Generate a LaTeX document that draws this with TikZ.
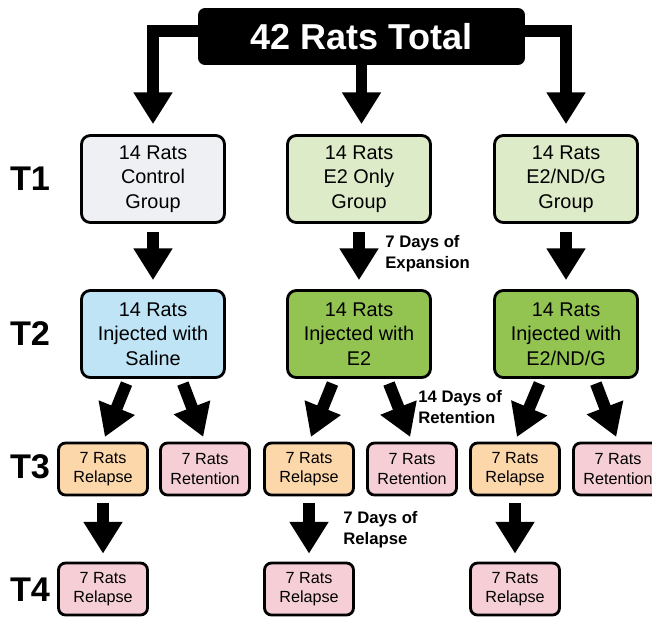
\documentclass[tikz,border=0pt]{standalone}
\usepackage{fontspec}
\setmainfont{Liberation Sans}
\usetikzlibrary{arrows.meta}

\definecolor{ctlgray}{HTML}{EEF0F3}
\definecolor{palegreen}{HTML}{DEEBC8}
\definecolor{salblue}{HTML}{BFE4F6}
\definecolor{injgreen}{HTML}{93C452}
\definecolor{relorange}{HTML}{FBD7AA}
\definecolor{retpink}{HTML}{F6CFD6}

\tikzset{
  grp/.style={draw, line width=1.6pt, rounded corners=5pt, align=center,
    minimum width=2.86cm, minimum height=1.74cm, font=\fontsize{11.3}{13.9}\selectfont},
  sub/.style={draw, line width=1.6pt, rounded corners=4pt, align=center,
    minimum width=1.78cm, minimum height=1.04cm, font=\fontsize{9.2}{11.2}\selectfont},
  fat/.style={line width=6.8pt, -{Triangle[width=21pt,length=18pt]}},
  tlab/.style={font=\fontsize{19.5}{20}\bfseries\selectfont},
  note/.style={align=left, anchor=west, inner sep=0pt, font=\fontsize{9.5}{12}\bfseries\selectfont},
}

\begin{document}
\begin{tikzpicture}[x=0.02cm, y=-0.02cm]
    \useasboundingbox (0,0) rectangle (652,616);
    \clip (0,0) rectangle (652,616);

    % Total
    \node[fill=black, rounded corners=4pt, minimum width=6.54cm, minimum height=1.14cm,
      text=white, font=\fontsize{20.5}{21}\bfseries\selectfont] (total) at (361.5,36.5) {42 Rats Total};

    % T1 groups
    \node[grp, fill=ctlgray] (ctl) at (153,179) {14 Rats\\Control\\Group};
    \node[grp, fill=palegreen] (eonly) at (359,179) {14 Rats\\E2 Only\\Group};
    \node[grp, fill=palegreen] (egrp) at (566,179) {14 Rats\\E2/ND/G\\Group};

    % T2 injections
    \node[grp, fill=salblue] (sal) at (153,334) {14 Rats\\Injected with\\Saline};
    \node[grp, fill=injgreen] (inje) at (359,334) {14 Rats\\Injected with\\E2};
    \node[grp, fill=injgreen] (injg) at (566,334) {14 Rats\\Injected with\\E2/ND/G};

    % T3 split
    \foreach \n/\x/\c/\t in {rl1/103/relorange/Relapse, rt1/205/retpink/Retention,
                             rl2/309/relorange/Relapse, rt2/412/retpink/Retention,
                             rl3/515/relorange/Relapse, rt3/618/retpink/Retention} {
        \node[sub, fill=\c] (\n) at (\x,469) {7 Rats\\\t};
    }

    % T4 relapse
    \foreach \n/\x in {fa/103, fb/309, fc/515} {
        \node[sub, fill=retpink] (\n) at (\x,589) {7 Rats\\Relapse};
    }

    % Time labels
    \node[tlab] (t1) at (30,179) {T1};
    \node[tlab] (t2) at (30,334) {T2};
    \node[tlab] (t3) at (30,467) {T3};
    \node[tlab] (t4) at (30,590) {T4};

    % Arrows from total
    \coordinate (lbend) at (153,31);
    \coordinate (rbend) at (566,31);
    \draw[fat, shorten >=0.2cm] (total.west |- lbend) -- (lbend) -- (ctl.north);
    \draw[fat, shorten >=0.2cm] (total.east |- rbend) -- (rbend) -- (egrp.north);
    \draw[fat, shorten >=0.2cm] (total.south) -- (total.south |- eonly.north);

    % T1 to T2
    \foreach \a/\b in {ctl/sal, eonly/inje, egrp/injg} {
        \draw[fat, shorten <=0.16cm, shorten >=0.18cm] (\a) -- (\b);
    }

    % T2 to T3
    \foreach \a/\l/\r in {sal/rl1/rt1, inje/rl2/rt2, injg/rl3/rt3} {
        \draw[fat, shorten <=0.1cm, shorten >=0.1cm] ([xshift=-14pt]\a.south) -- (\l.north);
        \draw[fat, shorten <=0.1cm, shorten >=0.1cm] ([xshift=16pt]\a.south) -- (\r.north);
    }

    % T3 to T4
    \foreach \a/\b in {rl1/fa, rl2/fb, rl3/fc} {
        \draw[fat, shorten <=0.14cm, shorten >=0.16cm] (\a) -- (\b);
    }

    % Notes
    \node[note] (expn) at (385,254) {7 Days of\\Expansion};
    \node[note] (retn) at (418,407) {14 Days of\\Retention};
    \node[note] (relp) at (343,530) {7 Days of\\Relapse};

\end{tikzpicture}
\end{document}
